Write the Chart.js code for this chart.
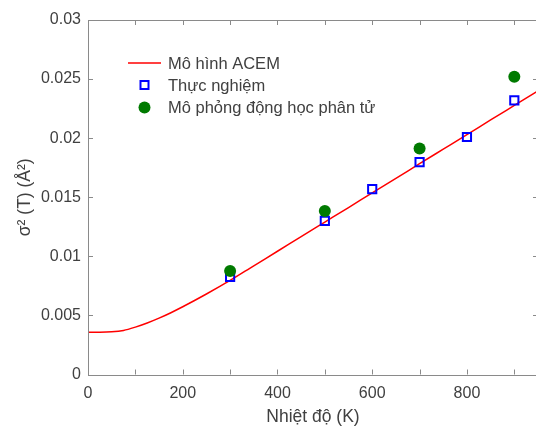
<!DOCTYPE html>
<html>
<head>
<meta charset="utf-8">
<script src="https://cdn.jsdelivr.net/npm/chart.js@4"></script>
<style>
html,body{margin:0;padding:0;overflow:hidden;background:#fff;}
canvas{display:block;}
</style>
</head>
<body>
<canvas id="c" width="538" height="428"></canvas>
<script>
// ---- data ----
const curveT = [0,25,50,75,100,125,150,175,200,250,300,350,400,450,500,550,600,650,700,750,800,850,900,950];
const curveS2 = [0.00358,0.00358,0.00361,0.00373,0.00401,0.00436,0.00477,0.00523,0.00573,0.00681,0.00796,0.00920,0.01043,0.01167,0.01290,0.01413,0.01537,0.01660,0.01784,0.01907,0.02030,0.02154,0.02277,0.02400];
const expT = [300,500,600,700,800,900];
const expS2 = [0.00827,0.01300,0.01568,0.01798,0.02010,0.02320];
const mdT = [300,500,700,900];
const mdS2 = [0.00875,0.01384,0.01912,0.02520];
const seriesNames = ['Mô hình ACEM','Thực nghiệm','Mô phỏng động học phân tử'];
const xTickValues = [0,100,200,300,400,500,600,700,800,900];
const xTickLabels = ['0','','200','','400','','600','','800',''];
const yTickValues = [0,0.005,0.01,0.015,0.02,0.025,0.03];
const yTickLabels = ['0','0.005','0.01','0.015','0.02','0.025','0.03'];
const xTitle = 'Nhiệt độ (K)';
const yTitle = 'σ² (T) (Å²)';

const FONT = "'Liberation Sans', Arial, sans-serif";
const TXT = '#404040';
const AX = '#8a8a8a';

const zip = (a,b)=>a.map((v,i)=>({x:v,y:b[i]}));

const boxPlugin = {
  id:'box',
  afterDraw(chart){
    const {ctx, chartArea:a, scales:{x,y}} = chart;
    ctx.save();
    ctx.strokeStyle = AX; ctx.lineWidth = 1;
    ctx.beginPath();
    ctx.rect(Math.round(a.left)+0.5, Math.round(a.top)+0.5, Math.round(a.right-a.left), Math.round(a.bottom-a.top));
    ctx.stroke();
    const L = 5;
    ctx.beginPath();
    xTickValues.forEach(v=>{
      const px = Math.round(x.getPixelForValue(v))+0.5;
      ctx.moveTo(px, a.bottom); ctx.lineTo(px, a.bottom-L);
      ctx.moveTo(px, a.top); ctx.lineTo(px, a.top+L);
    });
    yTickValues.forEach(v=>{
      const py = Math.round(y.getPixelForValue(v))+0.5;
      ctx.moveTo(a.left, py); ctx.lineTo(a.left+L, py);
      ctx.moveTo(a.right, py); ctx.lineTo(a.right-L, py);
    });
    ctx.stroke();
    // legend
    const ds = chart.data.datasets;
    const lx = 144.5, tx = 168, rows = [63, 85, 107.5];
    ctx.font = '16.5px ' + FONT;
    ctx.fillStyle = TXT; ctx.textBaseline = 'middle'; ctx.textAlign = 'left';
    ctx.strokeStyle = ds[0].borderColor; ctx.lineWidth = 1.5;
    ctx.beginPath(); ctx.moveTo(128, rows[0]); ctx.lineTo(161, rows[0]); ctx.stroke();
    ctx.strokeStyle = ds[1].borderColor; ctx.lineWidth = 2;
    ctx.strokeRect(lx-4, rows[1]-4, 8, 8);
    ctx.fillStyle = ds[2].backgroundColor;
    ctx.beginPath(); ctx.arc(lx, rows[2], 6, 0, Math.PI*2); ctx.fill();
    ctx.fillStyle = TXT;
    ds.forEach((d,i)=>ctx.fillText(d.label, tx, rows[i]+1));
    ctx.restore();
  }
};

new Chart(document.getElementById('c'), {
  type:'scatter',
  data:{
    datasets:[
      {label:seriesNames[0], data:zip(curveT,curveS2), showLine:true, borderColor:'#ff0000', borderWidth:1.5,
       pointRadius:0, cubicInterpolationMode:'monotone', order:3},
      {label:seriesNames[1], data:zip(expT,expS2), pointStyle:'rect', pointRadius:5.8, borderColor:'#0000ff',
       backgroundColor:'rgba(0,0,0,0)', borderWidth:2, order:2},
      {label:seriesNames[2], data:zip(mdT,mdS2), pointStyle:'circle', pointRadius:6, borderColor:'#007a00',
       backgroundColor:'#007a00', borderWidth:0, order:1}
    ]
  },
  options:{
    responsive:false, maintainAspectRatio:false, animation:false, devicePixelRatio:1,
    layout:{autoPadding:false, padding:{top:20,right:0,left:0,bottom:0}},
    plugins:{legend:{display:false}, tooltip:{enabled:false}},
    scales:{
      x:{type:'linear', min:0, max:950,
        afterBuildTicks(s){ s.ticks = xTickValues.map(v=>({value:v})); },
        afterFit(s){ s.height = 53.5; s.paddingRight = 0; s.paddingLeft = 0; },
        grid:{display:false, drawTicks:false}, border:{display:false},
        ticks:{color:TXT, font:{family:FONT,size:16}, padding:9, maxRotation:0, autoSkip:false,
          callback:(v)=>xTickLabels[xTickValues.indexOf(v)]},
        title:{display:true, text:xTitle, color:TXT, font:{family:FONT,size:17.5}, padding:{top:0,bottom:0}}
      },
      y:{type:'linear', min:0, max:0.03,
        afterBuildTicks(s){ s.ticks = yTickValues.map(v=>({value:v})); },
        afterFit(s){ s.width = 88; s.paddingTop = 0; s.paddingBottom = 0; },
        grid:{display:false, drawTicks:false}, border:{display:false},
        ticks:{color:TXT, font:{family:FONT,size:16}, padding:7, autoSkip:false,
          callback:(v)=>yTickLabels[yTickValues.indexOf(v)]},
        title:{display:true, text:yTitle, color:TXT, font:{family:FONT,size:17.5}, padding:{top:15,bottom:0}}
      }
    }
  },
  plugins:[boxPlugin]
});
</script>
</body>
</html>
